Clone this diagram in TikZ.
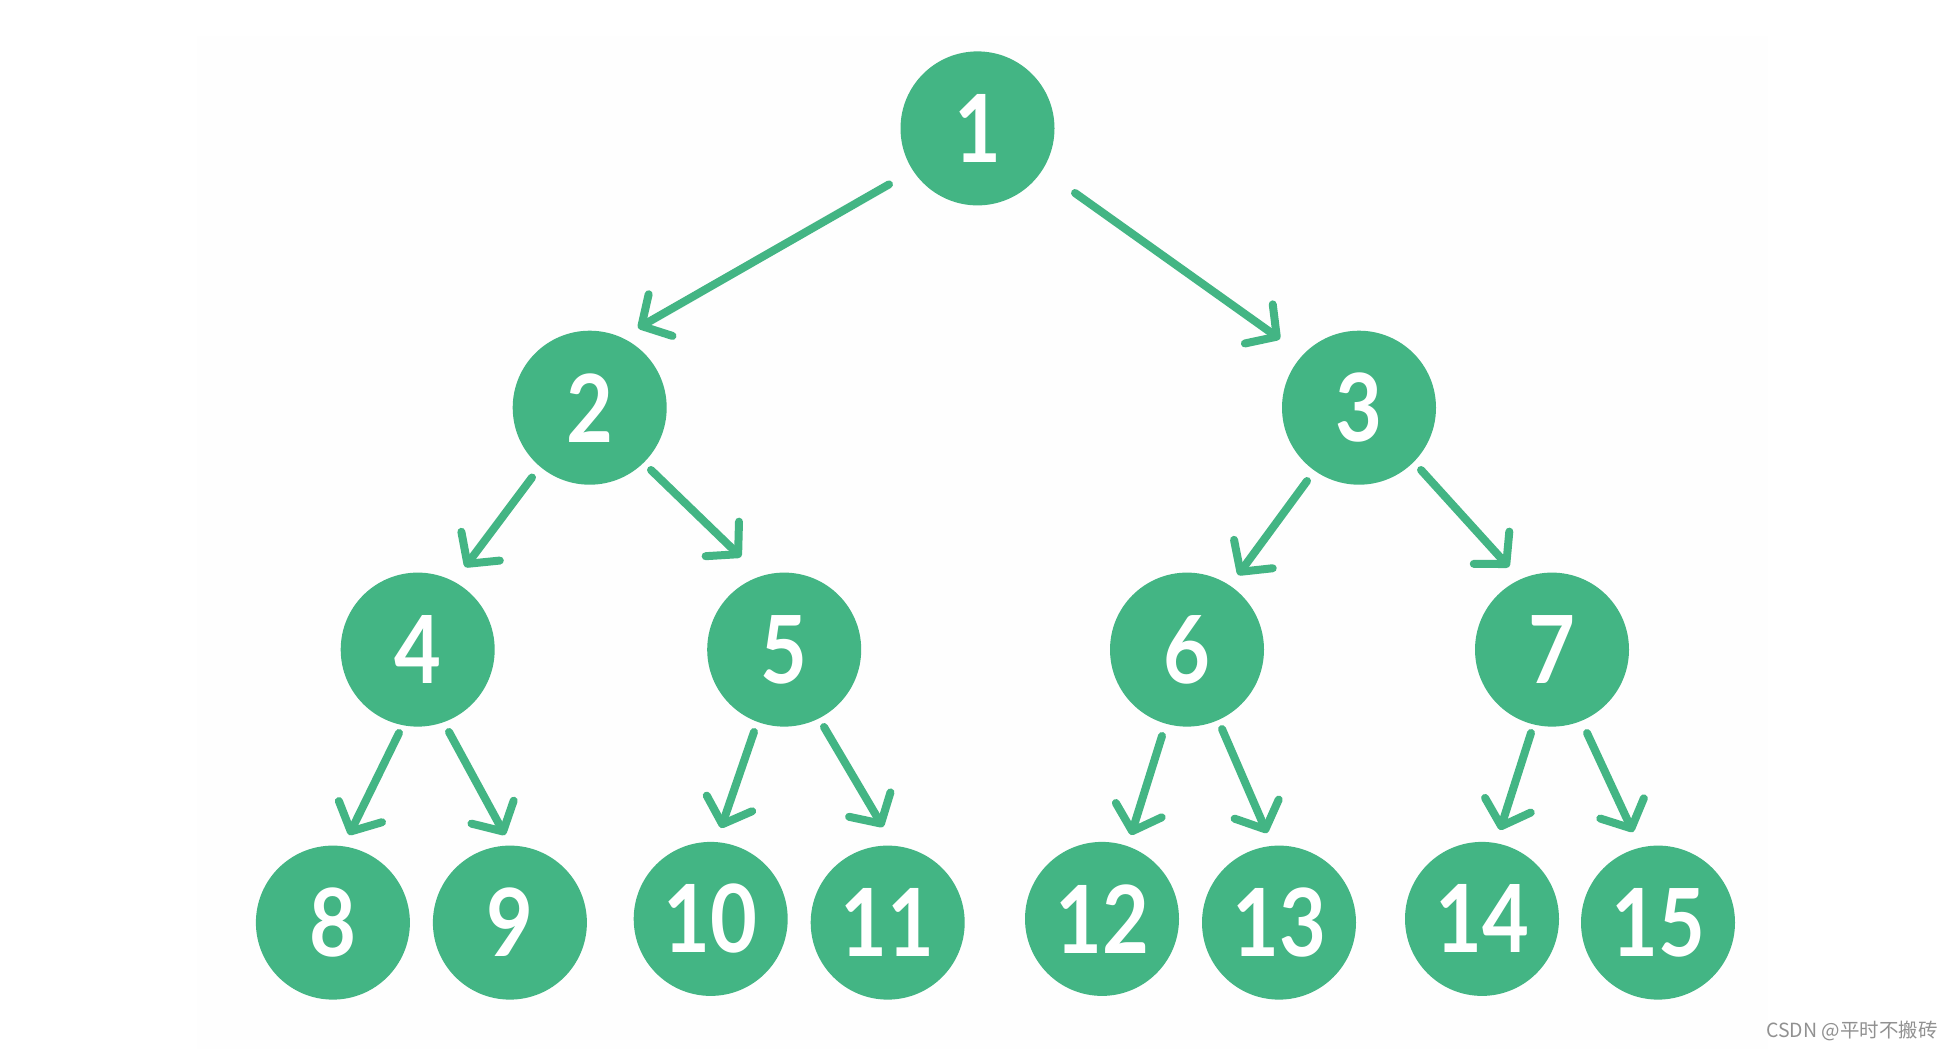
\documentclass[tikz,border=0pt]{standalone}
\usepackage{fontspec}
\usetikzlibrary{arrows.meta}
\newfontfamily\digitfont[FakeStretch=0.86]{Lato}
\newfontfamily\cjkfont{Noto Sans CJK SC}
\definecolor{treegreen}{RGB}{67,181,132}
\definecolor{wmgray}{RGB}{145,145,145}
\definecolor{paper}{RGB}{254,254,254}
\tikzset{
  tnode/.style={circle, fill=treegreen, minimum size=154pt, inner sep=0pt,
    text=white, font=\digitfont\bfseries\fontsize{94}{94}\selectfont},
  arr/.style={draw=treegreen, line width=8pt, line cap=round,
    -{Straight Barb[length=22pt,width=48pt,line width=8pt,round]}},
  wm/.style={text=wmgray, font=\cjkfont\fontsize{19.5}{19.5}\selectfont, anchor=east, inner sep=0pt}
}
\begin{document}
\begin{tikzpicture}[x=1pt,y=-1pt]
\useasboundingbox (0,0) rectangle (1955,1049);
\fill[white] (0,0) rectangle (1955,1049);
\fill[paper] (197,36) rectangle (1768,1049);

\node[tnode] (n1) at (977.5,128.4) {1};
\node[tnode] (n2) at (589.7,407.7) {2};
\node[tnode] (n3) at (1359,407.7) {3};
\node[tnode] (n4) at (417.7,649.6) {4};
\node[tnode] (n5) at (784.2,649.6) {5};
\node[tnode] (n6) at (1187,649.6) {6};
\node[tnode] (n7) at (1552,649.6) {7};
\node[tnode] (n8) at (332.9,922.6) {8};
\node[tnode] (n9) at (509.9,922.6) {9};
\node[tnode] (n10) at (710.7,918.9) {10};
\node[tnode] (n11) at (887.7,922.6) {11};
\node[tnode] (n12) at (1102,918.9) {12};
\node[tnode] (n13) at (1279,922.6) {13};
\node[tnode] (n14) at (1482,918.9) {14};
\node[tnode] (n15) at (1658,922.6) {15};

\draw[arr] ([shift={(-88.5,56)}]n1.center) -- ([shift={(48.3,-79.7)}]n2.center);
\draw[arr] ([shift={(97.5,64.6)}]n1.center) -- ([shift={(-79,-68.7)}]n3.center);
\draw[arr] ([shift={(-57.7,69.8)}]n2.center) -- ([shift={(47.3,-82.6)}]n4.center);
\draw[arr] ([shift={(61.3,62.3)}]n2.center) -- ([shift={(-43.2,-92.6)}]n5.center);
\draw[arr] ([shift={(-52,73.3)}]n3.center) -- ([shift={(51,-74.6)}]n6.center);
\draw[arr] ([shift={(62,62.3)}]n3.center) -- ([shift={(-43,-82.6)}]n7.center);
\draw[arr] ([shift={(-18.7,83.4)}]n4.center) -- ([shift={(16.1,-87.6)}]n8.center);
\draw[arr] ([shift={(31.3,82.4)}]n4.center) -- ([shift={(-4.9,-87.6)}]n9.center);
\draw[arr] ([shift={(-30.2,82.4)}]n5.center) -- ([shift={(10.3,-90.9)}]n10.center);
\draw[arr] ([shift={(39.8,77.4)}]n5.center) -- ([shift={(-4.7,-95.6)}]n11.center);
\draw[arr] ([shift={(-25,86.4)}]n6.center) -- ([shift={(29,-83.9)}]n12.center);
\draw[arr] ([shift={(35,79.4)}]n6.center) -- ([shift={(-12,-89.6)}]n13.center);
\draw[arr] ([shift={(-21,83.4)}]n7.center) -- ([shift={(18,-88.9)}]n14.center);
\draw[arr] ([shift={(35,83.4)}]n7.center) -- ([shift={(-25,-90.6)}]n15.center);

\node[wm] (wmark) at (1938,1031) {CSDN @平时不搬砖};
\end{tikzpicture}
\end{document}
